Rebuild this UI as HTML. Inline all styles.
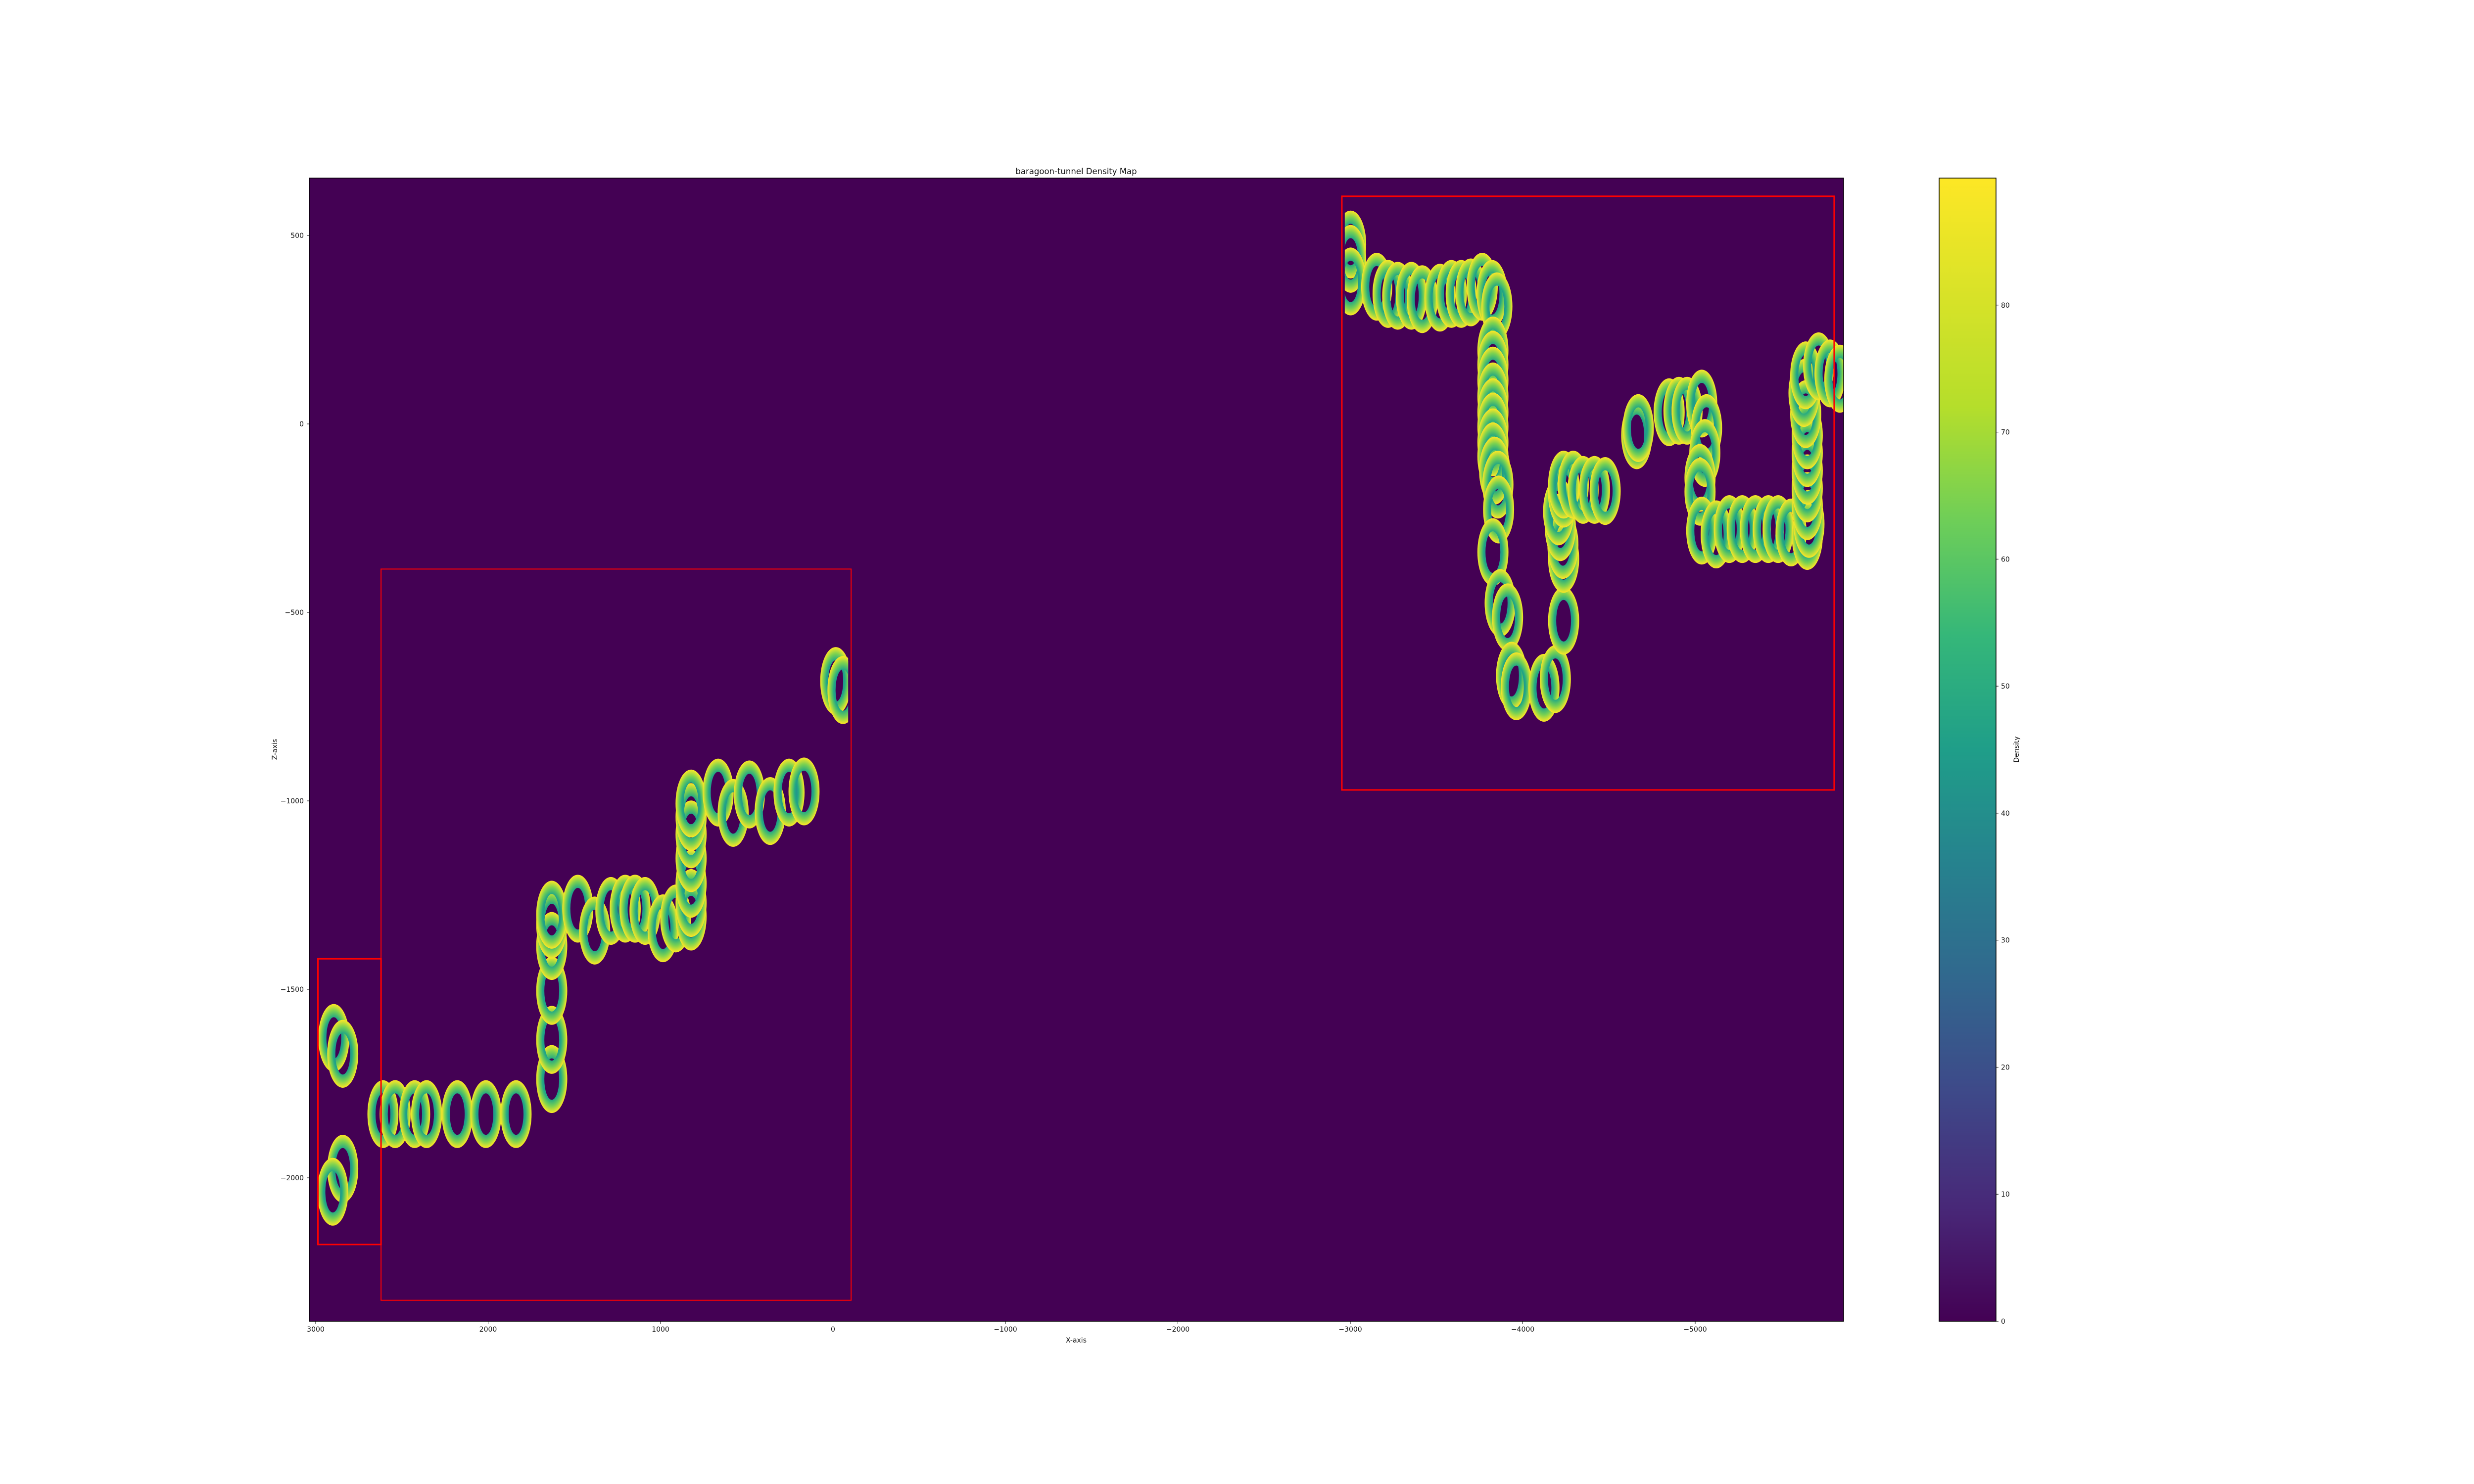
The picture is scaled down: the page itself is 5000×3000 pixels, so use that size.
<!DOCTYPE html>
<html><head><meta charset="utf-8"><style>
html,body{margin:0;padding:0;background:#fff;}
svg{display:block;font-family:"DejaVu Sans","Liberation Sans",sans-serif;}
</style></head><body>
<svg id="chart" width="5000" height="3000" viewBox="0 0 5000 3000" xmlns="http://www.w3.org/2000/svg">
<defs>
<radialGradient id="ringGrad" cx="0.5" cy="0.5" r="0.5">
<stop offset="0.45" stop-color="#21918c"/>
<stop offset="0.6" stop-color="#22a884"/>
<stop offset="0.8" stop-color="#7ad151"/>
<stop offset="1" stop-color="#fde725"/>
</radialGradient>
<linearGradient id="cbGrad" x1="0" y1="1" x2="0" y2="0">
<stop offset="0" stop-color="#440154"/><stop offset="0.1" stop-color="#482878"/>
<stop offset="0.2" stop-color="#3e4989"/><stop offset="0.3" stop-color="#31688e"/>
<stop offset="0.4" stop-color="#26828e"/><stop offset="0.5" stop-color="#1f9e89"/>
<stop offset="0.6" stop-color="#35b779"/><stop offset="0.7" stop-color="#6ece58"/>
<stop offset="0.8" stop-color="#b5de2b"/><stop offset="1" stop-color="#fde725"/>
</linearGradient>
<clipPath id="clipPlot"><rect x="625" y="360" width="3101" height="2311"/></clipPath>
<clipPath id="clipLeft"><rect id="clipLeftRect" x="0" y="360" width="0" height="2311"/></clipPath>
<clipPath id="clipRight"><rect id="clipRightRect" x="0" y="360" width="0" height="2311"/></clipPath>
</defs>
<rect x="625" y="360" width="3101" height="2311" fill="#440154"/>
<g id="ringsLeft" clip-path="url(#clipLeft)"></g>
<g id="ringsRight" clip-path="url(#clipRight)"></g>
<g id="boxes" clip-path="url(#clipPlot)"></g>
<rect x="625" y="360" width="3101" height="2311" fill="none" stroke="#000" stroke-width="1.5"/>
<g id="xticks"></g>
<g id="yticks"></g>
<text x="2175" y="352" font-size="16.5" text-anchor="middle" fill="#111">baragoon-tunnel Density Map</text>
<text x="2175" y="2714" font-size="14" text-anchor="middle" fill="#111">X-axis</text>
<text x="0" y="0" font-size="14" text-anchor="middle" fill="#111" transform="translate(560,1515) rotate(-90)">Z-axis</text>
<rect x="3919" y="360" width="115" height="2311" fill="url(#cbGrad)" stroke="#000" stroke-width="1.5"/>
<g id="cbticks"></g>
<text x="0" y="0" font-size="14" text-anchor="middle" fill="#111" transform="translate(4080,1515) rotate(-90)">Density</text>
</svg>
<script>
const xTicks = [3000, 2000, 1000, 0, -1000, -2000, -3000, -4000, -5000];
const yTicks = [500, 0, -500, -1000, -1500, -2000];
const cbTicks = [0, 10, 20, 30, 40, 50, 60, 70, 80];
const cbMax = 90;
const ringOuterR = 90;
const ringInnerRx = 43;
const ringInnerRy = 55;
const leftExtent = [2991, -88];
const rightExtent = [-2968, -5861];
const leftX = [2895, 2843, 2843, 2901, 2610, 2539, 2426, 2357, 2179, 2013, 1838, 1631, 1631, 1631, 1631, 1631, 1631, 1480, 1382, 1288, 1205, 1148, 1090, 986, 912, 823, 823, 823, 823, 823, 823, 823, 666, 579, 485, 364, 255, 168, -16, -58];
const leftY = [-1629, -1671, -1976, -2037, -1831, -1831, -1831, -1831, -1831, -1831, -1831, -1738, -1634, -1504, -1385, -1328, -1302, -1286, -1344, -1292, -1286, -1286, -1292, -1338, -1312, -1307, -1271, -1220, -1152, -1089, -1043, -1007, -978, -1032, -983, -1027, -978, -975, -682, -706];
const rightX = [-3002, -3002, -3002, -3153, -3219, -3275, -3354, -3417, -3520, -3586, -3643, -3699, -3765, -3822, -3850, -3827, -3827, -3827, -3827, -3827, -3827, -3827, -3827, -3837, -3856, -3860, -3827, -3869, -3912, -3935, -3963, -4123, -4189, -4237, -4237, -4233, -4218, -4208, -4237, -4237, -4293, -4350, -4416, -4478, -4661, -4670, -4849, -4906, -4953, -5038, -5066, -5056, -5028, -5028, -5038, -5122, -5198, -5273, -5349, -5424, -5481, -5556, -5650, -5660, -5650, -5650, -5650, -5650, -5650, -5641, -5631, -5641, -5716, -5782, -5839];
const rightY = [476, 438, 378, 364, 345, 340, 340, 331, 335, 345, 345, 349, 364, 345, 312, 195, 157, 115, 73, 31, -7, -49, -86, -124, -161, -227, -340, -475, -513, -668, -696, -700, -677, -522, -358, -321, -274, -232, -185, -161, -161, -175, -175, -178, -30, -11, 31, 35, 35, 54, -11, -77, -143, -180, -283, -293, -279, -279, -279, -279, -279, -288, -297, -265, -218, -171, -124, -77, -30, 26, 82, 129, 153, 134, 120];
const boxX0 = [-2951, 2621, 2987];
const boxX1 = [-5806, -105, 2621];
const boxY0 = [604, -385, -1419];
const boxY1 = [-971, -2325, -2177];

const NS = 'http://www.w3.org/2000/svg';
function xPx(v){ return 638 + (3000 - v) * 0.3485; }
function yPx(v){ return 857 - v * 0.762; }
function cbPx(v){ return 2671 - v / cbMax * 2311; }
function mk(tag, attrs, parent){ const e = document.createElementNS(NS, tag); for (const k in attrs) e.setAttribute(k, attrs[k]); parent.appendChild(e); return e; }

function setClip(id, ext){ const r = document.getElementById(id); const a = xPx(ext[0]), b = xPx(ext[1]); r.setAttribute('x', Math.min(a,b)); r.setAttribute('width', Math.abs(b-a)); }
setClip('clipLeftRect', leftExtent);
setClip('clipRightRect', rightExtent);

function drawRings(gid, xs, ys){
  const g = document.getElementById(gid);
  for (let i = 0; i < xs.length; i++){
    const cx = xPx(xs[i]), cy = yPx(ys[i]);
    const rx = ringOuterR * 0.3485, ry = ringOuterR * 0.762;
    const irx = ringInnerRx * 0.3485, iry = ringInnerRy * 0.762;
    const d = `M${cx-rx},${cy}a${rx},${ry} 0 1,0 ${2*rx},0a${rx},${ry} 0 1,0 ${-2*rx},0Z` +
              `M${cx-irx},${cy}a${irx},${iry} 0 1,0 ${2*irx},0a${irx},${iry} 0 1,0 ${-2*irx},0Z`;
    const p = mk('path', {d: d, fill: 'url(#ringGrad)', 'fill-rule': 'evenodd'}, g);
    
    
  }
}
drawRings('ringsLeft', leftX, leftY);
drawRings('ringsRight', rightX, rightY);

const bg = document.getElementById('boxes');
const boxW = [3, 2, 3];
for (let i = 0; i < boxX0.length; i++){
  const a = xPx(boxX0[i]), b = xPx(boxX1[i]), c = yPx(boxY0[i]), d = yPx(boxY1[i]);
  const r = mk('rect', {x: Math.min(a,b), y: Math.min(c,d), width: Math.abs(b-a), height: Math.abs(d-c), fill: 'none', stroke: '#ff0000', 'stroke-width': boxW[i]}, bg);
  
  
}

function fmt(v){ return v < 0 ? '\u2212' + Math.abs(v) : String(v); }
const xg = document.getElementById('xticks');
xTicks.forEach(v => {
  const x = xPx(v);
  const l = mk('line', {x1: x, x2: x, y1: 2671, y2: 2676, stroke: '#000', 'stroke-width': 1}, xg);
  
  
  const t = mk('text', {x: x, y: 2692, 'font-size': 14, 'text-anchor': 'middle', fill: '#111'}, xg);
  
  
  t.textContent = fmt(v);
});
const yg = document.getElementById('yticks');
yTicks.forEach(v => {
  const y = yPx(v);
  const l = mk('line', {x1: 620, x2: 625, y1: y, y2: y, stroke: '#000', 'stroke-width': 1}, yg);
  
  
  const t = mk('text', {x: 614, y: y + 5, 'font-size': 14, 'text-anchor': 'end', fill: '#111'}, yg);
  
  
  t.textContent = fmt(v);
});
const cg = document.getElementById('cbticks');
cbTicks.forEach(v => {
  const y = cbPx(v);
  const l = mk('line', {x1: 4034, x2: 4039, y1: y, y2: y, stroke: '#000', 'stroke-width': 1}, cg);
  
  
  const t = mk('text', {x: 4044, y: y + 5, 'font-size': 14, 'text-anchor': 'start', fill: '#111'}, cg);
  
  
  t.textContent = String(v);
});
</script>
</body></html>
